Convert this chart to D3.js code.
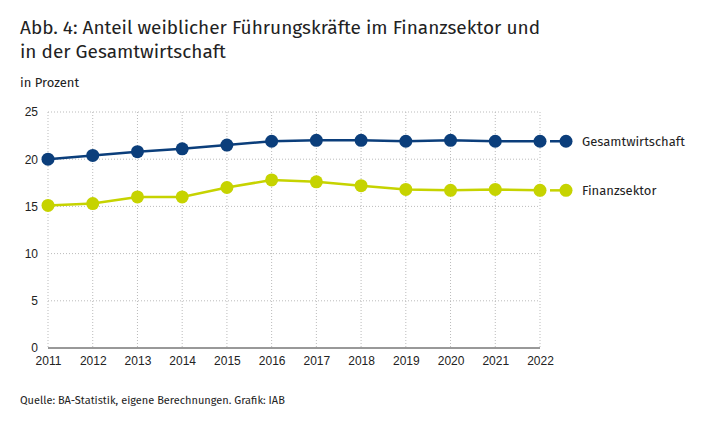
<!DOCTYPE html>
<html><head><meta charset="utf-8">
<script src="https://cdn.jsdelivr.net/npm/d3@7"></script>
<style>body{margin:0;background:#fff;font-family:"Fira Sans","Open Sans",sans-serif;}</style>
</head><body><svg id="chart"></svg>
<script>
const years = [2011,2012,2013,2014,2015,2016,2017,2018,2019,2020,2021,2022];
const gesamt = [20.0,20.4,20.8,21.1,21.5,21.9,22.0,22.0,21.9,22.0,21.9,21.9];
const finanz = [15.1,15.3,16.0,16.0,17.0,17.8,17.6,17.2,16.8,16.7,16.8,16.7];
const yTicks = [0,5,10,15,20,25];

const W = 710, H = 424;
const margin = { top: 112, right: 170, bottom: 76, left: 48 };
const svg = d3.select("#chart").attr("width", W).attr("height", H);

svg.append("text").attr("x", 20).attr("y", 34).attr("font-size", 19).attr("fill", "#222")
    .text("Abb. 4: Anteil weiblicher Führungskräfte im Finanzsektor und");
svg.append("text").attr("x", 20).attr("y", 58).attr("font-size", 19).attr("fill", "#222")
    .text("in der Gesamtwirtschaft");
svg.append("text").attr("x", 20).attr("y", 87).attr("font-size", 13).attr("fill", "#222").text("in Prozent");
svg.append("text").attr("x", 20).attr("y", 404).attr("font-size", 11).attr("fill", "#222")
    .text("Quelle: BA-Statistik, eigene Berechnungen. Grafik: IAB");

const x = d3.scaleLinear().domain([2011, 2022]).range([margin.left, W - margin.right]);
const y = d3.scaleLinear().domain([0, 25]).range([H - margin.bottom, margin.top]);

const g = svg.append("g");
g.selectAll(".vg").data(years).enter().append("line")
    .attr("x1", d => x(d)).attr("x2", d => x(d))
    .attr("y1", y(25)).attr("y2", y(0))
    .attr("stroke", "#bbb").attr("stroke-dasharray", "1,2");
g.selectAll(".hg").data(yTicks.filter(d => d > 0)).enter().append("line")
    .attr("x1", x(2011)).attr("x2", x(2022))
    .attr("y1", d => y(d)).attr("y2", d => y(d))
    .attr("stroke", "#bbb").attr("stroke-dasharray", "1,2");
g.append("line").attr("x1", x(2011)).attr("x2", x(2022)).attr("y1", y(0)).attr("y2", y(0))
    .attr("stroke", "#333");

const ax = svg.append("g").attr("transform", `translate(0,${y(0)})`)
    .call(d3.axisBottom(x).tickValues(years).tickFormat(d3.format("d")).tickSize(0).tickPadding(8));
ax.select(".domain").remove();
ax.selectAll("text").attr("font-size", 12).attr("fill", "#222").style("font-family", "inherit");

const ay = svg.append("g").attr("transform", `translate(${margin.left - 10},0)`)
    .call(d3.axisLeft(y).tickValues(yTicks).tickSize(0).tickPadding(0));
ay.select(".domain").remove();
ay.selectAll("text").attr("font-size", 12).attr("fill", "#222").attr("dy", "0.32em").style("font-family", "inherit");

const series = [
    { name: "Gesamtwirtschaft", values: gesamt, color: "#0b3e7b" },
    { name: "Finanzsektor", values: finanz, color: "#c6d300" }
];
const line = d3.line().x((d, i) => x(years[i])).y(d => y(d));
series.forEach(s => {
    svg.append("path").datum(s.values).attr("d", line)
        .attr("fill", "none").attr("stroke", s.color).attr("stroke-width", 2.5);
    svg.selectAll(null).data(s.values).enter().append("circle")
        .attr("cx", (d, i) => x(years[i])).attr("cy", d => y(d)).attr("r", 6.5).attr("fill", s.color);
    const ly = y(s.values[s.values.length - 1]);
    const lx = x(2022);
    svg.append("line").attr("x1", lx + 10).attr("x2", lx + 20).attr("y1", ly).attr("y2", ly)
        .attr("stroke", s.color).attr("stroke-width", 2.5);
    svg.append("circle").attr("cx", lx + 26).attr("cy", ly).attr("r", 6.5).attr("fill", s.color);
    svg.append("text").attr("x", lx + 42).attr("y", ly).attr("dy", "0.35em")
        .attr("font-size", 13).attr("fill", "#222").text(s.name);
});
</script></body></html>
